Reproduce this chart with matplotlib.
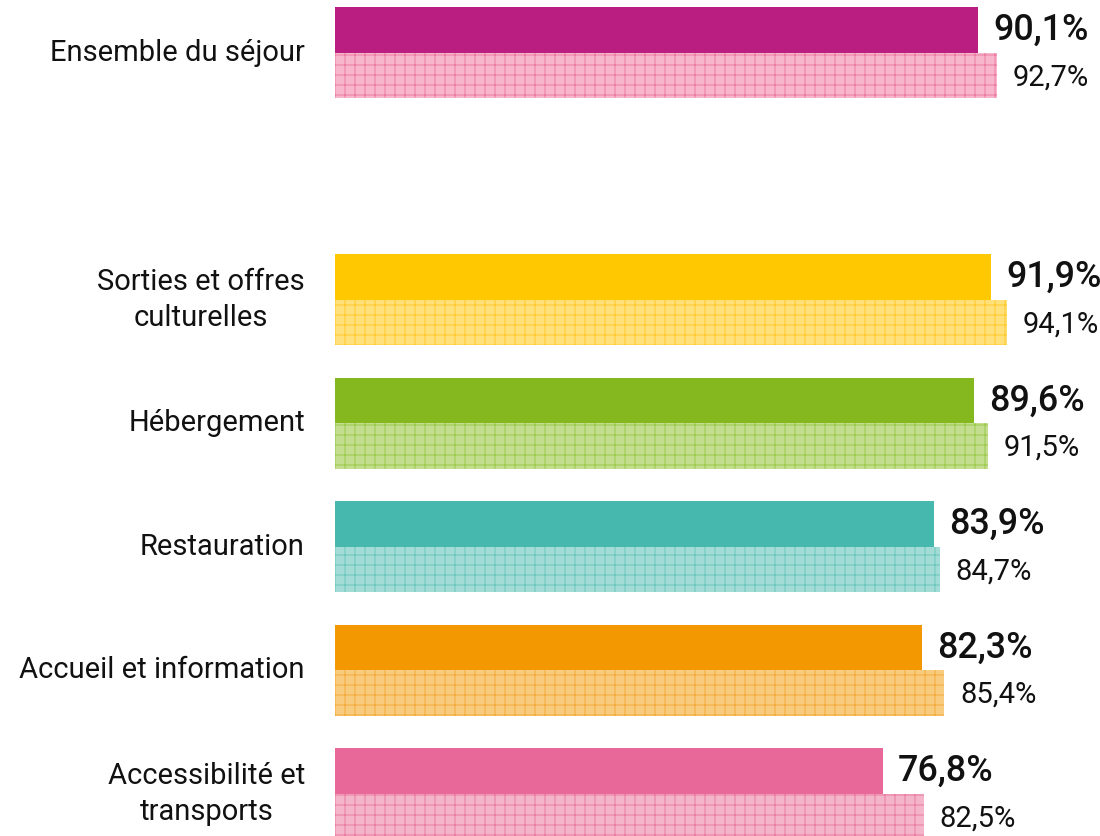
import matplotlib
matplotlib.use("Agg")
import matplotlib.pyplot as plt

# data
categories = ["Ensemble du séjour", "Sorties et offres\nculturelles", "Hébergement",
              "Restauration", "Accueil et information", "Accessibilité et\ntransports"]
values_top = [90.1, 91.9, 89.6, 83.9, 82.3, 76.8]
values_bottom = [92.7, 94.1, 91.5, 84.7, 85.4, 82.5]
slots = [0, 2, 3, 4, 5, 6]

colors_top = ["#BA1E80", "#FFC800", "#85B81E", "#47B8AE", "#F39800", "#E8689A"]
colors_light = ["#F7B6CC", "#FFE07A", "#C3DE8E", "#A3DCD6", "#F9CB7F", "#F4B5CB"]
colors_hatch = ["#EC7DA3", "#FFCB2E", "#9FCB4E", "#6CC7BE", "#F5AD3A", "#EC7DA3"]

DPI = 120
W, H = 1100, 836
plt.rcParams["font.family"] = ["Roboto", "DejaVu Sans"]
plt.rcParams["hatch.linewidth"] = 0.6

fig = plt.figure(figsize=(W / DPI, H / DPI), dpi=DPI)
ax = fig.add_axes([0, 0, 1, 1])

px_per_unit = 7.137
x0 = 335
ax.set_xlim(-x0 / px_per_unit, (W - x0) / px_per_unit)
pitch = 123.5
y0 = 53
ax.set_ylim((H - y0) / pitch, -y0 / pitch)
h = 45.5 / pitch

for i, s in enumerate(slots):
    ax.barh(s - h / 2, values_top[i], height=h, color=colors_top[i], lw=0)
    ax.barh(s + h / 2, values_bottom[i], height=h, color=colors_light[i],
            edgecolor=colors_hatch[i], hatch="++", lw=0)
    ax.text(values_top[i] + 15 / px_per_unit, s - h / 2 + 0.5 / pitch,
            f"{values_top[i]:.1f}%".replace(".", ","),
            ha="left", va="center", fontsize=21.5, fontweight="medium", color="#111111")
    ax.text(values_bottom[i] + 16 / px_per_unit, s + h / 2 + 1.5 / pitch,
            f"{values_bottom[i]:.1f}%".replace(".", ","),
            ha="left", va="center", fontsize=17.5, color="#111111")
    ax.text(-30 / px_per_unit, s, categories[i], ha="right", va="center",
            multialignment="center", fontsize=17.5, linespacing=1.38, color="#111111")

ax.axis("off")
fig.savefig("out.png", dpi=DPI)
